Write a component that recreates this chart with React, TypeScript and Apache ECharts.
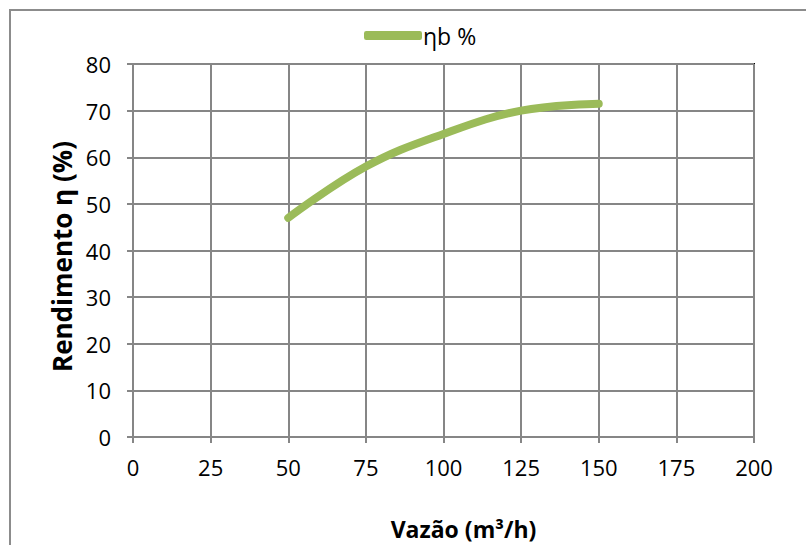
import React, { useEffect, useRef } from "react";
import * as echarts from "echarts";

const vazao = [50, 75, 100, 125, 150];
const rendimento = [47, 58, 65, 70, 71.5];
const seriesName = "ηb %";
const xTitle = "Vazão (m³/h)";
const yTitle = "Rendimento η (%)";

export default function App() {
  const ref = useRef<HTMLDivElement>(null);
  useEffect(() => {
    if (!ref.current) return;
    const chart = echarts.init(ref.current, null, { renderer: "svg" });
    const font = "'Open Sans', 'Noto Sans', sans-serif";
    chart.setOption({
      animation: false,
      backgroundColor: "#ffffff",
      textStyle: { fontFamily: font },
      graphic: [
        {
          type: "rect",
          shape: { x: 10, y: 10, width: 900, height: 900 },
          style: { fill: "none", stroke: "#8c8c8c", lineWidth: 2 },
          silent: true,
        },
      ],
      legend: {
        top: 19,
        left: 359,
        itemWidth: 58,
        itemHeight: 9,
        itemGap: 4,
        data: [{ name: seriesName, icon: "roundRect" }],
        textStyle: { fontSize: 23, color: "#000", fontFamily: font, padding: [0, 0, 0, -4] },
      },
      grid: {
        left: 133,
        right: 52,
        top: 64,
        bottom: 108,
        show: true,
        borderColor: "#000",
        borderWidth: 2,
      },
      xAxis: {
        type: "value",
        min: 0,
        max: 200,
        interval: 25,
        name: xTitle,
        nameLocation: "middle",
        nameGap: 80,
        nameTextStyle: {
          fontSize: 23,
          fontWeight: "bold",
          color: "#000",
          fontFamily: font,
          padding: [0, 0, 0, 40],
        },
        axisLine: { show: true, lineStyle: { color: "#868686", width: 2 } },
        axisTick: { show: true, length: 6, lineStyle: { color: "#868686", width: 2 } },
        axisLabel: { fontSize: 22, color: "#000", margin: 19, fontFamily: font },
        splitLine: { show: true, lineStyle: { color: "#868686", width: 2 } },
      },
      yAxis: {
        type: "value",
        min: 0,
        max: 80,
        interval: 10,
        name: yTitle,
        nameLocation: "middle",
        nameRotate: 90,
        nameGap: 55,
        nameTextStyle: {
          fontSize: 26,
          fontWeight: "bold",
          color: "#000",
          fontFamily: font,
          padding: [0, 12, 0, 0],
        },
        axisLine: { show: true, lineStyle: { color: "#868686", width: 2 } },
        axisTick: { show: true, length: 6, lineStyle: { color: "#868686", width: 2 } },
        axisLabel: { fontSize: 22, color: "#000", margin: 22, fontFamily: font },
        splitLine: { show: true, lineStyle: { color: "#868686", width: 2 } },
      },
      series: [
        {
          name: seriesName,
          type: "line",
          smooth: 0.4,
          showSymbol: false,
          symbol: "none",
          data: vazao.map((v, i) => [v, rendimento[i]]),
          itemStyle: { color: "#9BBB59" },
          lineStyle: { color: "#9BBB59", width: 8, cap: "round", join: "round" },
        },
      ],
    });
    return () => chart.dispose();
  }, []);
  return (
    <div
      ref={ref}
      style={{ position: "absolute", left: 0, top: 0, width: 806, height: 545 }}
    />
  );
}
